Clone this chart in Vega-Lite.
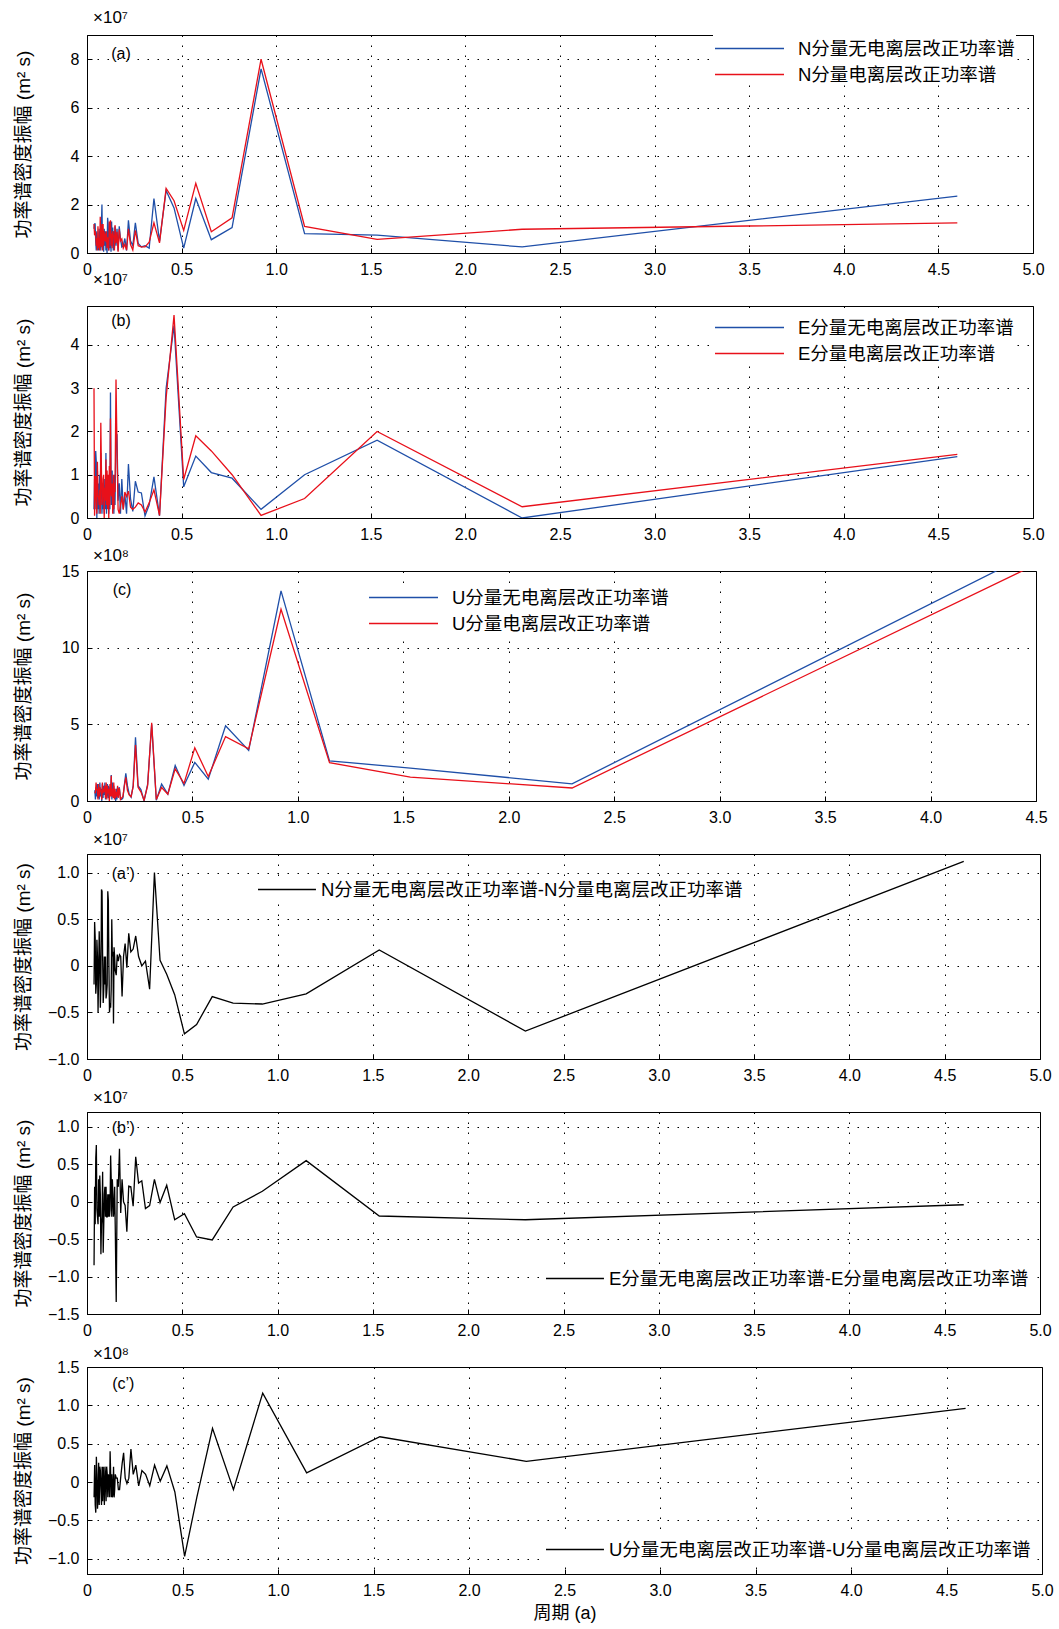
{
"$schema": "https://vega.github.io/schema/vega-lite/v6.json",
"background": "white",
"padding": {"left": 13, "top": 8, "right": 8, "bottom": 4},
"datasets": {"d": [
{"x":4.6,"nb":2.35,"nr":1.24,"nd":1.12,"eb":1.42,"er":1.47,"ed":-0.04,"ub":17.0,"ur":16.1,"ud":0.96},
{"x":2.3,"nb":0.25,"nr":0.98,"nd":-0.7,"eb":0.0,"er":0.26,"ed":-0.24,"ub":1.12,"ur":0.85,"ud":0.27},
{"x":1.5333,"nb":0.74,"nr":0.56,"nd":0.17,"eb":1.8,"er":2.0,"ed":-0.19,"ub":2.15,"ur":1.56,"ud":0.59},
{"x":1.15,"nb":0.8,"nr":1.1,"nd":-0.3,"eb":1.0,"er":0.45,"ed":0.55,"ub":2.62,"ur":2.5,"ud":0.12},
{"x":0.92,"nb":7.6,"nr":8.0,"nd":-0.41,"eb":0.2,"er":0.06,"ed":0.14,"ub":13.7,"ur":12.5,"ud":1.16},
{"x":0.7667,"nb":1.05,"nr":1.45,"nd":-0.4,"eb":0.92,"er":1.0,"ed":-0.07,"ub":3.3,"ur":3.4,"ud":-0.1},
{"x":0.6571,"nb":0.55,"nr":0.88,"nd":-0.33,"eb":1.05,"er":1.55,"ed":-0.51,"ub":4.9,"ur":4.2,"ud":0.7},
{"x":0.575,"nb":2.25,"nr":2.88,"nd":-0.63,"eb":1.43,"er":1.9,"ed":-0.47,"ub":1.42,"ur":1.6,"ud":-0.2},
{"x":0.5111,"nb":0.2,"nr":0.93,"nd":-0.73,"eb":0.72,"er":0.89,"ed":-0.16,"ub":2.52,"ur":3.47,"ud":-0.97},
{"x":0.46,"nb":1.86,"nr":2.16,"nd":-0.31,"eb":4.45,"er":4.69,"ed":-0.24,"ub":1.01,"ur":1.14,"ud":-0.13},
{"x":0.4182,"nb":2.58,"nr":2.67,"nd":-0.09,"eb":3.0,"er":2.78,"ed":0.22,"ub":2.31,"ur":2.1,"ud":0.21},
{"x":0.3833,"nb":0.48,"nr":0.42,"nd":0.06,"eb":0.05,"er":0.06,"ed":-0.01,"ub":0.45,"ur":0.44,"ud":0.01},
{"x":0.3538,"nb":2.25,"nr":1.25,"nd":1.0,"eb":0.95,"er":0.65,"ed":0.3,"ub":1.1,"ur":0.88,"ud":0.22},
{"x":0.3286,"nb":0.2,"nr":0.45,"nd":-0.25,"eb":0.3,"er":0.35,"ed":-0.05,"ub":0.05,"ur":0.1,"ud":-0.05},
{"x":0.3067,"nb":0.3,"nr":0.25,"nd":0.05,"eb":0.05,"er":0.14,"ed":-0.09,"ub":5.0,"ur":5.1,"ud":0.1},
{"x":0.2875,"nb":0.25,"nr":0.25,"nd":0.0,"eb":0.58,"er":0.3,"ed":0.28,"ub":1.1,"ur":1.0,"ud":0.15},
{"x":0.2706,"nb":0.4,"nr":0.3,"nd":0.1,"eb":0.6,"er":0.35,"ed":0.25,"ub":0.0,"ur":0.05,"ud":-0.05},
{"x":0.2556,"nb":1.25,"nr":0.93,"nd":0.32,"eb":0.85,"er":0.25,"ed":0.6,"ub":0.75,"ur":0.6,"ud":0.22},
{"x":0.2421,"nb":0.3,"nr":0.12,"nd":0.18,"eb":0.15,"er":0.2,"ed":-0.06,"ub":1.0,"ur":0.9,"ud":0.1},
{"x":0.23,"nb":0.5,"nr":0.35,"nd":0.15,"eb":0.45,"er":0.25,"ed":0.2,"ub":4.15,"ur":3.65,"ud":0.43},
{"x":0.219,"nb":1.35,"nr":1.0,"nd":0.35,"eb":1.25,"er":0.62,"ed":0.21,"ub":1.0,"ur":0.95,"ud":0.05},
{"x":0.2091,"nb":0.1,"nr":0.12,"nd":-0.02,"eb":0.1,"er":0.5,"ed":-0.4,"ub":0.25,"ur":0.28,"ud":-0.02},
{"x":0.2,"nb":0.6,"nr":0.36,"nd":0.24,"eb":0.55,"er":0.6,"ed":-0.05,"ub":0.45,"ur":0.4,"ud":0.05},
{"x":0.1917,"nb":0.3,"nr":0.2,"nd":0.1,"eb":0.2,"er":0.2,"ed":0.0,"ub":1.0,"ur":0.7,"ud":0.38},
{"x":0.184,"nb":0.25,"nr":0.58,"nd":-0.33,"eb":0.9,"er":0.5,"ed":0.3,"ub":1.8,"ur":1.55,"ud":0.24},
{"x":0.1769,"nb":0.6,"nr":0.5,"nd":0.1,"eb":0.1,"er":0.3,"ed":-0.15,"ub":1.0,"ur":0.95,"ud":0.07},
{"x":0.1704,"nb":1.1,"nr":0.98,"nd":0.12,"eb":0.8,"er":0.1,"ed":0.71,"ub":0.2,"ur":0.3,"ud":-0.1},
{"x":0.1643,"nb":0.1,"nr":0.05,"nd":0.05,"eb":0.4,"er":0.2,"ed":0.2,"ub":0.1,"ur":0.2,"ud":-0.1},
{"x":0.1586,"nb":1.0,"nr":0.88,"nd":0.12,"eb":1.9,"er":1.6,"ed":0.3,"ub":0.15,"ur":0.1,"ud":0.05},
{"x":0.1533,"nb":0.3,"nr":0.4,"nd":-0.1,"eb":1.86,"er":3.2,"ed":-1.34,"ub":0.9,"ur":0.85,"ud":0.05},
{"x":0.148,"nb":1.1,"nr":1.15,"nd":-0.05,"eb":0.3,"er":0.6,"ed":-0.3,"ub":0.3,"ur":0.2,"ud":0.1},
{"x":0.145,"nb":0.2,"nr":0.1,"nd":0.1,"eb":1.0,"er":0.8,"ed":0.2,"ub":0.9,"ur":1.0,"ud":-0.1},
{"x":0.142,"nb":0.9,"nr":0.7,"nd":0.2,"eb":0.1,"er":0.2,"ed":-0.1,"ub":0.1,"ur":0.3,"ud":-0.2},
{"x":0.139,"nb":0.1,"nr":0.7,"nd":-0.62,"eb":0.8,"er":1.0,"ed":-0.2,"ub":0.8,"ur":0.6,"ud":0.2},
{"x":0.136,"nb":1.05,"nr":0.9,"nd":0.15,"eb":0.2,"er":0.1,"ed":0.1,"ub":0.0,"ur":0.2,"ud":-0.15},
{"x":0.133,"nb":0.3,"nr":0.2,"nd":0.1,"eb":1.1,"er":0.8,"ed":0.3,"ub":0.6,"ur":0.8,"ud":-0.2},
{"x":0.13,"nb":1.3,"nr":0.8,"nd":0.5,"eb":0.3,"er":0.5,"ed":-0.2,"ub":0.2,"ur":0.1,"ud":0.1},
{"x":0.127,"nb":0.05,"nr":0.3,"nd":-0.25,"eb":0.9,"er":0.6,"ed":0.3,"ub":1.0,"ur":1.2,"ud":-0.2},
{"x":0.124,"nb":0.9,"nr":1.35,"nd":-0.45,"eb":2.9,"er":2.3,"ed":0.62,"ub":0.3,"ur":0.2,"ud":0.1},
{"x":0.121,"nb":0.2,"nr":0.6,"nd":-0.4,"eb":0.2,"er":0.3,"ed":-0.1,"ub":1.2,"ur":0.8,"ud":0.4},
{"x":0.118,"nb":0.7,"nr":1.3,"nd":-0.5,"eb":1.0,"er":1.2,"ed":-0.2,"ub":0.1,"ur":0.3,"ud":-0.2},
{"x":0.115,"nb":0.1,"nr":0.1,"nd":0.0,"eb":0.1,"er":0.0,"ed":0.1,"ub":1.7,"ur":1.65,"ud":0.05},
{"x":0.112,"nb":1.2,"nr":0.5,"nd":0.7,"eb":0.8,"er":1.0,"ed":-0.2,"ub":0.4,"ur":0.3,"ud":0.1},
{"x":0.109,"nb":1.45,"nr":0.65,"nd":0.8,"eb":0.3,"er":0.2,"ed":0.1,"ub":0.9,"ur":1.1,"ud":-0.2},
{"x":0.106,"nb":0.0,"nr":0.2,"nd":-0.2,"eb":0.9,"er":1.1,"ed":-0.2,"ub":0.1,"ur":0.0,"ud":0.1},
{"x":0.103,"nb":0.6,"nr":0.9,"nd":-0.3,"eb":0.1,"er":0.3,"ed":-0.2,"ub":1.0,"ur":0.8,"ud":0.2},
{"x":0.1,"nb":0.1,"nr":0.45,"nd":-0.35,"eb":1.5,"er":1.35,"ed":0.2,"ub":0.2,"ur":0.5,"ud":-0.25},
{"x":0.097,"nb":0.9,"nr":0.8,"nd":0.1,"eb":0.2,"er":0.4,"ed":-0.2,"ub":1.1,"ur":1.0,"ud":0.1},
{"x":0.094,"nb":0.3,"nr":0.5,"nd":-0.2,"eb":0.9,"er":0.7,"ed":0.2,"ub":0.3,"ur":0.1,"ud":0.2},
{"x":0.091,"nb":1.0,"nr":0.9,"nd":0.1,"eb":0.1,"er":0.0,"ed":0.1,"ub":0.9,"ur":1.2,"ud":-0.3},
{"x":0.088,"nb":0.05,"nr":0.3,"nd":-0.25,"eb":0.7,"er":1.0,"ed":-0.3,"ub":0.1,"ur":0.2,"ud":-0.05},
{"x":0.085,"nb":0.8,"nr":1.2,"nd":-0.4,"eb":0.2,"er":0.9,"ed":-0.68,"ub":1.2,"ur":1.0,"ud":0.2},
{"x":0.082,"nb":0.2,"nr":0.1,"nd":0.1,"eb":0.8,"er":0.4,"ed":0.4,"ub":0.4,"ur":0.6,"ud":-0.25},
{"x":0.079,"nb":2.0,"nr":1.2,"nd":0.8,"eb":0.1,"er":0.3,"ed":-0.2,"ub":1.0,"ur":0.8,"ud":0.2},
{"x":0.076,"nb":1.1,"nr":0.28,"nd":0.82,"eb":0.9,"er":1.2,"ed":-0.3,"ub":0.2,"ur":0.5,"ud":-0.3},
{"x":0.073,"nb":0.1,"nr":0.3,"nd":-0.2,"eb":1.5,"er":2.2,"ed":-0.7,"ub":1.1,"ur":1.2,"ud":-0.1},
{"x":0.07,"nb":0.9,"nr":1.5,"nd":-0.45,"eb":0.2,"er":0.1,"ed":0.1,"ub":0.0,"ur":0.1,"ud":0.15},
{"x":0.067,"nb":0.2,"nr":0.1,"nd":0.1,"eb":1.0,"er":0.65,"ed":0.35,"ub":0.8,"ur":0.6,"ud":0.2},
{"x":0.064,"nb":1.0,"nr":0.63,"nd":0.37,"eb":0.1,"er":0.3,"ed":-0.2,"ub":0.3,"ur":0.7,"ud":-0.3},
{"x":0.061,"nb":0.1,"nr":0.2,"nd":-0.1,"eb":0.8,"er":0.5,"ed":0.3,"ub":1.2,"ur":0.9,"ud":0.25},
{"x":0.058,"nb":0.6,"nr":1.1,"nd":-0.5,"eb":0.2,"er":0.5,"ed":-0.3,"ub":0.1,"ur":0.3,"ud":-0.2},
{"x":0.055,"nb":0.2,"nr":0.1,"nd":0.1,"eb":1.1,"er":1.3,"ed":-0.2,"ub":0.7,"ur":1.1,"ud":-0.35},
{"x":0.052,"nb":0.9,"nr":0.62,"nd":0.28,"eb":0.0,"er":0.1,"ed":-0.1,"ub":0.2,"ur":0.1,"ud":0.1},
{"x":0.049,"nb":0.1,"nr":0.3,"nd":-0.2,"eb":1.3,"er":0.54,"ed":0.76,"ub":1.1,"ur":0.8,"ud":0.33},
{"x":0.046,"nb":0.5,"nr":0.8,"nd":-0.3,"eb":1.55,"er":0.97,"ed":0.58,"ub":0.3,"ur":0.7,"ud":-0.4},
{"x":0.043,"nb":1.2,"nr":0.9,"nd":0.3,"eb":0.2,"er":0.5,"ed":-0.3,"ub":0.9,"ur":1.2,"ud":-0.3},
{"x":0.04,"nb":1.2,"nr":0.73,"nd":0.47,"eb":0.9,"er":0.05,"ed":0.2,"ub":0.1,"ur":0.5,"ud":0.22},
{"x":0.037,"nb":1.0,"nr":1.2,"nd":-0.2,"eb":0.2,"er":3.0,"ed":-0.85,"ub":0.7,"ur":0.6,"ud":-0.2}
]},
"data": {"name": "d"},
"bounds": "flush",
"spacing": 53,
"resolve": {"scale": {"color": "independent"}, "legend": {"color": "independent"}},
"vconcat": [
{
 "width": 946, "height": 218,
 "title": {"text": "×10⁷", "offset": 8},
 "layer": [
  {"transform": [{"fold": ["nb","nr"], "as": ["k","v"]}],
   "mark": {"type": "line", "strokeWidth": 1.3, "clip": true},
   "encoding": {
    "x": {"field": "x", "type": "quantitative", "scale": {"domain": [0,5], "nice": false, "zero": false}, "axis": {"values": [0,0.5,1,1.5,2,2.5,3,3.5,4,4.5,5], "title": null}},
    "y": {"field": "v", "type": "quantitative", "scale": {"domain": [0,9], "nice": false}, "axis": {"values": [0,2,4,6,8], "title": "功率谱密度振幅 (m² s)", "labelExpr": "format(datum.value, 'd')"}},
    "color": {"field": "k", "type": "nominal", "scale": {"domain": ["nb","nr"], "range": ["#1f4fa8","#e8101a"]},
      "legend": {"legendX": 626, "legendY": 0, "symbolType": "M-1,0H5", "labelOffset": 59, "labelExpr": "datum.label == 'nb' ? 'N分量无电离层改正功率谱' : 'N分量电离层改正功率谱'"}}
   }},
  {"data": {"values": [{"t": "(a)"}]},
   "mark": {"type": "text", "fontSize": 16, "font": "Liberation Sans", "color": "black"},
   "encoding": {"x": {"datum": 0.18, "type": "quantitative"}, "y": {"datum": 8.2, "type": "quantitative"}, "text": {"field": "t"}}}
 ]
},
{
 "width": 946, "height": 212,
 "title": {"text": "×10⁷", "offset": 17},
 "layer": [
  {"transform": [{"fold": ["eb","er"], "as": ["k","v"]}],
   "mark": {"type": "line", "strokeWidth": 1.3, "clip": true},
   "encoding": {
    "x": {"field": "x", "type": "quantitative", "scale": {"domain": [0,5], "nice": false, "zero": false}, "axis": {"values": [0,0.5,1,1.5,2,2.5,3,3.5,4,4.5,5], "title": null}},
    "y": {"field": "v", "type": "quantitative", "scale": {"domain": [0,4.9], "nice": false}, "axis": {"values": [0,1,2,3,4], "title": "功率谱密度振幅 (m² s)", "labelExpr": "format(datum.value, 'd')"}},
    "color": {"field": "k", "type": "nominal", "scale": {"domain": ["eb","er"], "range": ["#1f4fa8","#e8101a"]},
      "legend": {"legendX": 626, "legendY": 8, "symbolType": "M-1,0H5", "labelOffset": 59, "labelExpr": "datum.label == 'eb' ? 'E分量无电离层改正功率谱' : 'E分量电离层改正功率谱'"}}
   }},
  {"data": {"values": [{"t": "(b)"}]},
   "mark": {"type": "text", "fontSize": 16, "font": "Liberation Sans", "color": "black"},
   "encoding": {"x": {"datum": 0.18, "type": "quantitative"}, "y": {"datum": 4.55, "type": "quantitative"}, "text": {"field": "t"}}}
 ]
},
{
 "width": 949, "height": 230,
 "title": {"text": "×10⁸", "offset": -2},
 "layer": [
  {"transform": [{"fold": ["ub","ur"], "as": ["k","v"]}],
   "mark": {"type": "line", "strokeWidth": 1.3, "clip": true},
   "encoding": {
    "x": {"field": "x", "type": "quantitative", "scale": {"domain": [0,4.5], "nice": false, "zero": false}, "axis": {"values": [0,0.5,1,1.5,2,2.5,3,3.5,4,4.5], "title": null}},
    "y": {"field": "v", "type": "quantitative", "scale": {"domain": [0,15], "nice": false}, "axis": {"values": [0,5,10,15], "title": "功率谱密度振幅 (m² s)", "labelExpr": "format(datum.value, 'd')"}},
    "color": {"field": "k", "type": "nominal", "scale": {"domain": ["ub","ur"], "range": ["#1f4fa8","#e8101a"]},
      "legend": {"legendX": 280, "legendY": 13, "symbolType": "M-1,0H5", "labelOffset": 59, "labelExpr": "datum.label == 'ub' ? 'U分量无电离层改正功率谱' : 'U分量电离层改正功率谱'"}}
   }},
  {"data": {"values": [{"t": "(c)"}]},
   "mark": {"type": "text", "fontSize": 16, "font": "Liberation Sans", "color": "black"},
   "encoding": {"x": {"datum": 0.166, "type": "quantitative"}, "y": {"datum": 13.77, "type": "quantitative"}, "text": {"field": "t"}}}
 ]
},
{
 "width": 953, "height": 205,
 "title": {"text": "×10⁷", "offset": 5},
 "layer": [
  {"transform": [{"fold": ["nd"], "as": ["k","v"]}],
   "mark": {"type": "line", "strokeWidth": 1.3, "clip": true},
   "encoding": {
    "x": {"field": "x", "type": "quantitative", "scale": {"domain": [0,5], "nice": false, "zero": false}, "axis": {"values": [0,0.5,1,1.5,2,2.5,3,3.5,4,4.5,5], "title": null}},
    "y": {"field": "v", "type": "quantitative", "scale": {"domain": [-1,1.2], "nice": false, "zero": false}, "axis": {"values": [-1,-0.5,0,0.5,1], "title": "功率谱密度振幅 (m² s)"}},
    "color": {"field": "k", "type": "nominal", "scale": {"domain": ["nd"], "range": ["black"]},
      "legend": {"legendX": 169, "legendY": 22, "symbolType": "M-1,0H4.04", "labelOffset": 39, "labelExpr": "'N分量无电离层改正功率谱-N分量电离层改正功率谱'"}}
   }},
  {"data": {"values": [{"t": "(a’)"}]},
   "mark": {"type": "text", "fontSize": 16, "font": "Liberation Sans", "color": "black"},
   "encoding": {"x": {"datum": 0.19, "type": "quantitative"}, "y": {"datum": 0.99, "type": "quantitative"}, "text": {"field": "t"}}}
 ]
},
{
 "width": 953, "height": 202,
 "title": {"text": "×10⁷", "offset": 5},
 "layer": [
  {"transform": [{"fold": ["ed"], "as": ["k","v"]}],
   "mark": {"type": "line", "strokeWidth": 1.3, "clip": true},
   "encoding": {
    "x": {"field": "x", "type": "quantitative", "scale": {"domain": [0,5], "nice": false, "zero": false}, "axis": {"values": [0,0.5,1,1.5,2,2.5,3,3.5,4,4.5,5], "title": null}},
    "y": {"field": "v", "type": "quantitative", "scale": {"domain": [-1.5,1.2], "nice": false, "zero": false}, "axis": {"values": [-1.5,-1,-0.5,0,0.5,1], "title": "功率谱密度振幅 (m² s)"}},
    "color": {"field": "k", "type": "nominal", "scale": {"domain": ["ed"], "range": ["black"]},
      "legend": {"legendX": 457, "legendY": 153, "symbolType": "M-1,0H4.04", "labelOffset": 39, "labelExpr": "'E分量无电离层改正功率谱-E分量电离层改正功率谱'"}}
   }},
  {"data": {"values": [{"t": "(b’)"}]},
   "mark": {"type": "text", "fontSize": 16, "font": "Liberation Sans", "color": "black"},
   "encoding": {"x": {"datum": 0.19, "type": "quantitative"}, "y": {"datum": 0.98, "type": "quantitative"}, "text": {"field": "t"}}}
 ]
},
{
 "width": 955, "height": 207,
 "title": {"text": "×10⁸", "offset": -4},
 "layer": [
  {"transform": [{"fold": ["ud"], "as": ["k","v"]}],
   "mark": {"type": "line", "strokeWidth": 1.3, "clip": true},
   "encoding": {
    "x": {"field": "x", "type": "quantitative", "scale": {"domain": [0,5], "nice": false, "zero": false}, "axis": {"values": [0,0.5,1,1.5,2,2.5,3,3.5,4,4.5,5], "title": "周期 (a)"}},
    "y": {"field": "v", "type": "quantitative", "scale": {"domain": [-1.2,1.5], "nice": false, "zero": false}, "axis": {"values": [-1,-0.5,0,0.5,1,1.5], "title": "功率谱密度振幅 (m² s)"}},
    "color": {"field": "k", "type": "nominal", "scale": {"domain": ["ud"], "range": ["black"]},
      "legend": {"legendX": 457, "legendY": 169, "symbolType": "M-1,0H4.04", "labelOffset": 39, "labelExpr": "'U分量无电离层改正功率谱-U分量电离层改正功率谱'"}}
   }},
  {"data": {"values": [{"t": "(c’)"}]},
   "mark": {"type": "text", "fontSize": 16, "font": "Liberation Sans", "color": "black"},
   "encoding": {"x": {"datum": 0.19, "type": "quantitative"}, "y": {"datum": 1.28, "type": "quantitative"}, "text": {"field": "t"}}}
 ]
}
],
"config": {
 "font": "Liberation Sans, Noto Sans CJK SC",
 "view": {"stroke": "black", "strokeWidth": 1},
 "axis": {
  "domainColor": "black", "domainWidth": 1,
  "tickColor": "black", "tickSize": -5, "labelPadding": 13,
  "labelFontSize": 16, "labelColor": "black", "labelFont": "Liberation Sans",
  "labelFlush": false, "labelOverlap": false,
  "labelExpr": "datum.value == 0 ? '0' : format(datum.value, '.1f')",
  "grid": true, "gridColor": "black", "gridDash": [1.5, 8.5], "gridOpacity": 1, "gridWidth": 1,
  "titleFontWeight": "normal", "titleFontSize": 19, "titleColor": "black",
  "titleFont": "Liberation Sans, Noto Sans CJK SC"
 },
 "axisY": {"titleX": -64, "titleBaseline": "middle"},
 "axisX": {"titlePadding": 6, "titleFontSize": 18},
 "legend": {
  "orient": "none", "title": null, "symbolSize": 529, "symbolStrokeWidth": 1.3,
  "labelFontSize": 18.5, "labelFont": "Liberation Sans, Noto Sans CJK SC", "labelColor": "black",
  "rowPadding": 4, "padding": 1, "fillColor": "white", "strokeColor": null, "labelLimit": 700
 },
 "title": {"anchor": "start", "frame": "group", "fontSize": 17, "fontWeight": "normal", "font": "Liberation Sans", "color": "black", "dx": 6}
}
}
